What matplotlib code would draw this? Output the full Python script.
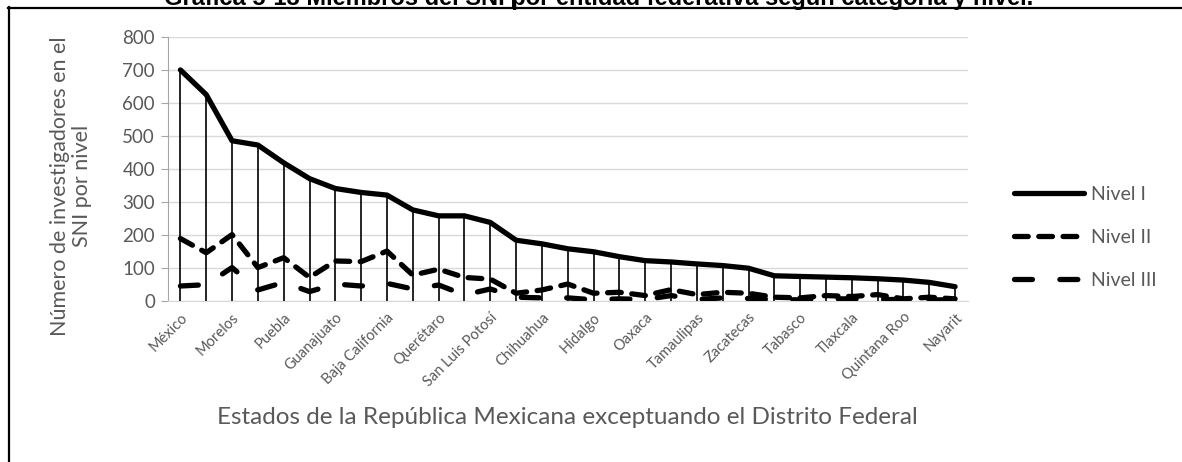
import numpy as np
import matplotlib.pyplot as plt
from matplotlib.lines import Line2D

# Entidades ordenadas por número de investigadores de Nivel I
estados = ['México', 'Jalisco', 'Morelos', 'Nuevo León', 'Puebla', 'Michoacán',
           'Guanajuato', 'Yucatán', 'Baja California', 'Veracruz', 'Querétaro',
           'Sonora', 'San Luis Potosí', 'Coahuila', 'Chihuahua', 'Sinaloa',
           'Hidalgo', 'Chiapas', 'Oaxaca', 'Aguascalientes', 'Tamaulipas',
           'Baja California Sur', 'Zacatecas', 'Colima', 'Tabasco', 'Durango',
           'Tlaxcala', 'Campeche', 'Quintana Roo', 'Guerrero', 'Nayarit']

nivel_1 = [700, 625, 485, 472, 418, 370, 340, 328, 320, 275, 257, 257, 237, 183,
           172, 157, 148, 133, 121, 117, 111, 106, 98, 75, 73, 71, 69, 66, 62, 55, 42]
nivel_2 = [188, 145, 200, 100, 130, 70, 120, 118, 150, 77, 95, 70, 65, 22,
           32, 50, 22, 25, 15, 33, 18, 25, 22, 10, 8, 15, 12, 18, 5, 10, 5]
nivel_3 = [44, 48, 100, 32, 55, 27, 50, 44, 52, 35, 47, 17, 35, 10,
           8, 8, 2, 5, 3, 15, 3, 8, 6, 3, 2, 5, 5, 3, 3, 2, 2]

titulo = 'Gráfica 5-13 Miembros del SNI por entidad federativa según categoría y nivel.'

gris = '#595959'
W, H = 1182, 462
fig = plt.figure(figsize=(W / 100, H / 100), dpi=100)

# marco del cuadro y título (cortado por el borde superior)
fig.add_artist(Line2D([8 / W, 1], [1 - 7.5 / H, 1 - 7.5 / H], color='black', lw=1.6))
fig.add_artist(Line2D([8.5 / W, 8.5 / W], [0, 1 - 7 / H], color='black', lw=1.6))
fig.add_artist(Line2D([513 / W, 513 / W], [1 - 7 / H, 1], color='black', lw=1.4))
fig.text(599 / W, 1 - 5 / H, titulo, ha='center', va='baseline',
         family='Liberation Sans', weight='bold', fontsize=17)

ax = fig.add_axes([167.5 / W, 1 - 300.5 / H, (968 - 167.5) / W, (300.5 - 37) / H])

x = np.arange(len(estados))
ax.vlines(x, 0, nivel_1, color='black', lw=1.2, zorder=2)
lw = 3.8
ax.plot(x, nivel_1, color='black', lw=lw, solid_capstyle='round',
        solid_joinstyle='round', label='Nivel I', zorder=4)
ax.plot(x, nivel_2, color='black', lw=lw, dashes=(2.6, 2.0),
        dash_capstyle='round', label='Nivel II', zorder=3)
ax.plot(x, nivel_3, color='black', lw=lw, dashes=(3.4, 5.2),
        dash_capstyle='round', label='Nivel III', zorder=3)

ax.set_xlim(-0.5, len(estados) - 0.5)
ax.set_ylim(0, 800)
ax.set_yticks(np.arange(0, 801, 100))
ax.grid(axis='y', color='#d9d9d9', lw=1.0)
ax.set_axisbelow(True)

for s in ['top', 'right']:
    ax.spines[s].set_visible(False)
ax.spines['left'].set_color('#a6a6a6')
ax.spines['bottom'].set_color('#d9d9d9')
ax.tick_params(axis='y', colors='#a6a6a6', labelcolor=gris, length=5,
               labelsize=13.5, pad=4)
ax.tick_params(axis='x', length=0, labelcolor=gris, labelsize=10.5, pad=7)
for t in ax.get_yticklabels():
    t.set_family('Lato')

ax.set_xticks(x[::2])
ax.set_xticklabels(estados[::2], rotation=45, ha='right', rotation_mode='anchor',
                   family='Lato')

fig.text(71 / W, 1 - 186 / H, 'Número de investigadores en el\nSNI por nivel',
         rotation=90, ha='center', va='center', ma='center', color=gris,
         family='Lato', fontsize=15.5, linespacing=1.1)
fig.text(567 / W, 1 - 417 / H,
         'Estados de la República Mexicana exceptuando el Distrito Federal',
         ha='center', va='center', color=gris, family='Lato', fontsize=17.5)

leg = ax.legend(loc='center left', bbox_to_anchor=(1.035, 0.24), frameon=False,
                handlelength=3.6, handletextpad=0.4, labelspacing=1.35,
                prop={'family': 'Lato', 'size': 14})
for t in leg.get_texts():
    t.set_color(gris)

fig.savefig('out.png', dpi=100)
